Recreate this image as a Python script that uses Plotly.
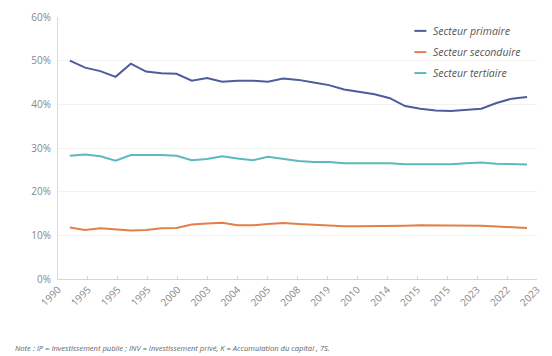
import numpy as np
import plotly.graph_objects as go

# Axis tick labels (as printed on the category axis)
tick_labels = ["1990", "1995", "1995", "1995", "2000", "2003", "2004", "2005", "2008",
               "2019", "2010", "2014", "2015", "2015", "2023", "2022", "2023"]

# Shares by sector (%)
primaire = [50.0, 48.4, 47.6, 46.3, 49.3, 47.5, 47.1, 47.0, 45.4, 46.0, 45.2, 45.4,
            45.4, 45.2, 45.9, 45.6, 45.0, 44.4, 43.4, 42.8, 42.3, 41.4, 39.6, 39.0,
            38.6, 38.5, 38.7, 39.0, 40.3, 41.3, 41.7]
secondaire = [11.8, 11.2, 11.6, 11.4, 11.1, 11.2, 11.6, 11.7, 12.5, 12.7, 12.9, 12.3,
              12.3, 12.6, 12.8, 12.6, 12.4, 12.2, 12.1, 12.1, 12.1, 12.1, 12.2, 12.3,
              12.3, 12.2, 12.2, 12.2, 12.0, 11.9, 11.7]
tertiaire = [28.2, 28.5, 28.1, 27.1, 28.4, 28.4, 28.4, 28.2, 27.2, 27.5, 28.1, 27.6,
             27.2, 28.0, 27.5, 27.0, 26.8, 26.8, 26.5, 26.5, 26.5, 26.5, 26.3, 26.3,
             26.3, 26.3, 26.5, 26.7, 26.4, 26.3, 26.2]

series_names = ["Secteur primaire", "Secteur seconduire", "Secteur tertiaire"]
series_values = [primaire, secondaire, tertiaire]
colors = ["#4d5c9c", "#e2804a", "#5db9bd"]

note = ("Note : IP = Investissement publie ; INV = Investissement privé, "
        "K = Accumulation du capital , 7S.")

FONT = "Open Sans"

# Observations sit two per tick interval, starting just right of the first tick
n = len(primaire)
x = 0.396 + 0.509 * np.arange(n)

fig = go.Figure()
for name, vals, col in zip(series_names, series_values, colors):
    fig.add_trace(go.Scatter(
        x=x, y=vals, mode="lines", name=name,
        line=dict(color=col, width=2), showlegend=False,
    ))

# Hand-drawn legend in the top-right corner
leg_y = [0.947, 0.866, 0.786]
for name, col, yy in zip(series_names, colors, leg_y):
    fig.add_shape(type="line", xref="paper", yref="paper",
                  x0=0.744, x1=0.769, y0=yy, y1=yy,
                  line=dict(color=col, width=2))
    fig.add_annotation(xref="paper", yref="paper", x=0.779, y=yy,
                       xanchor="left", yanchor="middle", showarrow=False,
                       text=f"<i>{name}</i>",
                       font=dict(family=FONT, size=10.5, color="#555555"))

fig.add_annotation(xref="paper", yref="paper", x=-0.093, y=-0.263,
                   xanchor="left", yanchor="middle", showarrow=False,
                   text=f"<i>{note}</i>",
                   font=dict(family=FONT, size=7.6, color="#666666"))

fig.update_layout(
    width=552, height=356,
    margin=dict(l=58, r=9, t=17, b=77),
    paper_bgcolor="#ffffff", plot_bgcolor="#ffffff",
    font=dict(family=FONT, size=10, color="#888888"),
    xaxis=dict(
        range=[0, 16], tickmode="array",
        tickvals=list(range(len(tick_labels))), ticktext=tick_labels,
        tickangle=-45, showgrid=False, zeroline=False,
        showline=True, linecolor="#d6d6d6", linewidth=1,
        ticks="inside", ticklen=3, tickcolor="#d6d6d6",
        tickfont=dict(family=FONT, size=10, color="#888888"),
    ),
    yaxis=dict(
        range=[0, 60], tickvals=[0, 10, 20, 30, 40, 50, 60],
        ticktext=["0%", "10%", "20%", "30%", "40%", "50%", "60%"],
        showgrid=True, gridcolor="#f2f2f2", gridwidth=1, zeroline=False,
        showline=True, linecolor="#dcdcdc", linewidth=1,
        ticks="", ticklabelstandoff=4,
        tickfont=dict(family=FONT, size=10, color="#888888"),
    ),
)

fig.write_html("out.html")
